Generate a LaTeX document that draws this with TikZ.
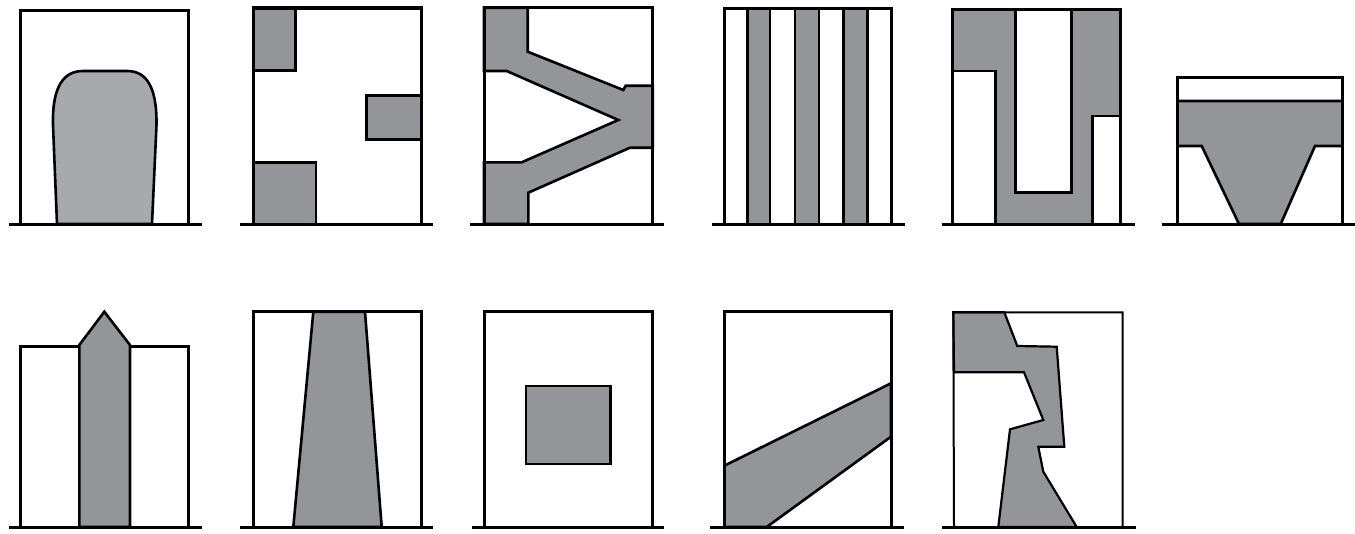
\documentclass[tikz,border=0pt]{standalone}
\begin{document}
\begin{tikzpicture}[x=1pt,y=-1pt,line join=miter,
  frame/.style={draw=black,line width=3pt},
  thinframe/.style={draw=black,line width=2pt},
  groundline/.style={draw=black,line width=3.5pt},
  shade/.style={fill=shadegray,draw=black,line width=2.6pt},
  lightshade/.style={fill=lightgray2,draw=black,line width=2.6pt},
  hole/.style={fill=white,draw=black,line width=2.6pt}]
\definecolor{shadegray}{RGB}{147,149,152}
\definecolor{lightgray2}{RGB}{167,169,172}
\useasboundingbox (0,0) rectangle (1355,533);
% ---------- Row 1 ----------
% Panel 1
\path[lightshade] (57,224) -- (53,125) .. controls (52,86) and (64,71) .. (83,71) -- (127,71) .. controls (146,71) and (157,86) .. (156.5,125) -- (152,224) -- cycle;
\draw[frame] (20.7,224) -- (20.7,10) -- (188,10) -- (188,224);
\draw[groundline] (9,224.5) -- (202,224.5);
% Panel 2
\path[shade] (253.3,8.3) rectangle (295.7,70.7);
\path[shade] (366.7,95.7) rectangle (421.7,139.3);
\path[shade] (253.3,162.3) rectangle (316,224);
\draw[frame] (253.3,224) -- (253.3,8.3) -- (421.7,8.3) -- (421.7,224);
\draw[line width=4pt] (252,8.3) -- (423,8.3);
\draw[groundline] (240,224.5) -- (433,224.5);
% Panel 3
\path[shade] (484,7.7) -- (527.7,7.7) -- (527.7,51.7) -- (623.3,90) -- (625.7,85.7) -- (652.7,85.7) -- (652.7,147.7) -- (630,147.7) -- (528.3,192.7) -- (528.3,224) -- (484,224) -- (484,162.3) -- (521.7,162.3) -- (618.3,120) -- (506.7,71) -- (484,71) -- cycle;
\draw[frame] (484,224) -- (484,7.7) -- (652.7,7.7) -- (652.7,224);
\draw[groundline] (470,224.5) -- (664,224.5);
% Panel 4
\path[shade] (747.3,8.3) rectangle (770,224);
\path[shade] (795,8.3) rectangle (819,224);
\path[shade] (843.3,8.3) rectangle (867.3,224);
\draw[frame] (724.3,224) -- (724.3,8.3) -- (891,8.3) -- (891,224);
\draw[groundline] (711.7,224.5) -- (905,224.5);
% Panel 5
\fill[shadegray] (952.3,9) rectangle (1120,224);
\fill[white] (952.3,71) rectangle (995.7,224);
\draw[line width=2.6pt] (952.3,224) -- (952.3,71) -- (995.7,71) -- (995.7,224);
\path[hole] (1015.7,9) rectangle (1071.7,192.7);
\fill[white] (1092.3,116) rectangle (1120,224);
\draw[line width=2.6pt] (1120,116) -- (1092.3,116) -- (1092.3,224);
\draw[frame] (952.3,224) -- (952.3,9) -- (1120,9) -- (1120,224);
\draw[groundline] (941.7,224.5) -- (1135,224.5);
% Panel 6
\path[shade] (1177.3,101) -- (1342.3,101) -- (1342.3,146) -- (1315,146) -- (1280.7,224) -- (1239,224) -- (1201.7,146) -- (1177.3,146) -- cycle;
\draw[frame] (1177.3,224) -- (1177.3,77.7) -- (1342.3,77.7) -- (1342.3,224);
\draw[groundline] (1161.7,224.5) -- (1355,224.5);
% ---------- Row 2 ----------
% Panel 7
\draw[frame] (20.7,527) -- (20.7,346) -- (188.3,346) -- (188.3,527);
\path[shade] (79.3,527) -- (79.3,345) -- (104.3,311.7) -- (130,345) -- (130,527) -- cycle;
\draw[groundline] (9.3,527.3) -- (201.7,527.3);
% Panel 8
\path[shade] (313.3,311.7) -- (365,311.7) -- (381.7,527) -- (293.3,527) -- cycle;
\draw[frame] (253.3,527) -- (253.3,311.7) -- (421.7,311.7) -- (421.7,527);
\draw[groundline] (240,527.3) -- (433,527.3);
% Panel 9
\path[shade] (526,386) rectangle (610.7,464);
\draw[frame] (484,527) -- (484,311.7) -- (652.7,311.7) -- (652.7,527);
\draw[groundline] (471.7,527.3) -- (664,527.3);
% Panel 10
\path[shade] (724.3,465.7) -- (891,383.3) -- (891,436.7) -- (766.7,527) -- (724.3,527) -- cycle;
\draw[frame] (724.3,527) -- (724.3,311.7) -- (891,311.7) -- (891,527);
\draw[groundline] (710,527.3) -- (904.3,527.3);
% Panel 11
\path[shade,line width=2.2pt] (953.3,312.3) -- (1004.3,312.3) -- (1017.3,346) -- (1056.7,346.7) -- (1064.3,446.7) -- (1038.3,446.7) -- (1043.3,471.7) -- (1076.7,527) -- (998.3,527) -- (1010,429.3) -- (1043.3,420) -- (1024,372.3) -- (954,372.3) -- cycle;
\draw[thinframe] (954,527) -- (953.3,312.3) -- (1122.7,312.3) -- (1122.7,527);
\draw[groundline] (941.7,527.3) -- (1135.7,527.3);
\end{tikzpicture}
\end{document}
